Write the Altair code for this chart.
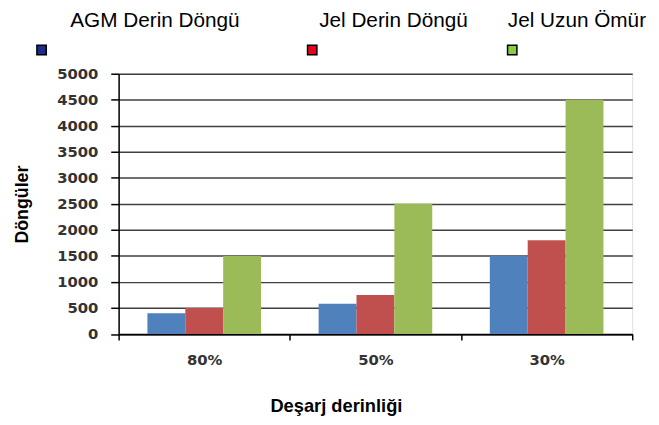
import altair as alt
import pandas as pd

categories = ["80%", "50%", "30%"]
series = ["AGM Derin Döngü", "Jel Derin Döngü", "Jel Uzun Ömür"]
agm = [400, 580, 1500]
jel_derin = [500, 750, 1800]
jel_uzun = [1500, 2500, 4500]
bar_colors = ["#4F81BD", "#C0504D", "#9BBB59"]
legend_colors = ["#1B2F8A", "#E8001C", "#8CCB45"]
y_ticks = list(range(0, 5001, 500))

rows = []
for s, vals in zip(series, [agm, jel_derin, jel_uzun]):
    for c, v in zip(categories, vals):
        rows.append({"kategori": c, "seri": s, "deger": v})
df = pd.DataFrame(rows)

bars = alt.Chart(df).mark_bar().encode(
    x=alt.X("kategori:N", sort=categories,
            scale=alt.Scale(paddingInner=0, paddingOuter=0),
            axis=alt.Axis(title="Deşarj derinliği", labelAngle=0,
                          labelFont="DejaVu Sans", labelFontWeight="bold",
                          labelFontSize=15, labelColor="#333333",
                          labelPadding=13, tickSize=6, tickBand="extent",
                          tickColor="#000000", tickWidth=1.5,
                          domainColor="#000000", domainWidth=1.5, grid=False,
                          titleFont="Liberation Sans", titleFontWeight="bold",
                          titleFontSize=18.5, titleColor="#000000",
                          titleX=220, titleY=78, titleAlign="center",
                          titleBaseline="alphabetic", titleAnchor="start")),
    xOffset=alt.XOffset("seri:N", sort=series,
                        scale=alt.Scale(paddingInner=0, paddingOuter=0.76)),
    y=alt.Y("deger:Q", scale=alt.Scale(domain=[0, 5000], nice=False),
            axis=alt.Axis(title="Döngüler", values=y_ticks, format="d",
                          labelFont="DejaVu Sans", labelFontWeight="bold",
                          labelFontSize=15, labelColor="#333333",
                          labelPadding=13, tickSize=8,
                          tickColor="#000000", tickWidth=1.5,
                          domainColor="#000000", domainWidth=1.5,
                          grid=True, gridColor="#404040", gridWidth=1.5,
                          titleFont="Liberation Sans", titleFontWeight="bold",
                          titleFontSize=18, titleColor="#000000",
                          titleAngle=270, titleX=-92, titleY=132,
                          titleAlign="center", titleBaseline="alphabetic",
                          titleAnchor="start")),
    color=alt.Color("seri:N", sort=series,
                    scale=alt.Scale(domain=series, range=bar_colors),
                    legend=None),
)

layers = [bars]
text_x = [-49, 203, 394]
sq_x = [-78, 196, 398.5]
for i, s in enumerate(series):
    d = pd.DataFrame({"seri": [s]})
    layers.append(
        alt.Chart(d).mark_text(font="Liberation Sans", fontSize=21,
                               align="left", baseline="alphabetic",
                               color="#000000").encode(
            text="seri:N", x=alt.value(text_x[i]), y=alt.value(-47))
    )
    layers.append(
        alt.Chart(d).mark_square(size=90, opacity=1, filled=True,
                                 fill=legend_colors[i], stroke="#000000",
                                 strokeWidth=1.5).encode(
            x=alt.value(sq_x[i]), y=alt.value(-24))
    )

chart = alt.layer(*layers).properties(
    width=520, height=263.5,
    autosize=alt.AutoSizeParams(type="none"),
    padding={"left": 112, "top": 64, "right": 19, "bottom": 80},
).configure_view(stroke="#404040", strokeWidth=1.5).configure(background="white")

chart.save("out.html", embed_options={"renderer": "svg", "actions": False})
